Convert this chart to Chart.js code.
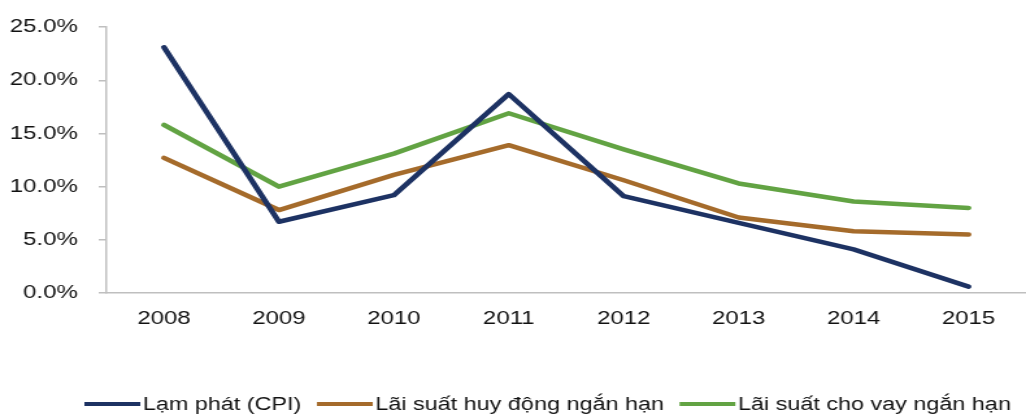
<!DOCTYPE html>
<html>
<head>
<meta charset="utf-8">
<script src="https://cdn.jsdelivr.net/npm/chart.js@4/dist/chart.umd.min.js"></script>
<style>
  html, body { margin: 0; padding: 0; background: #fff; }
</style>
</head>
<body>
<!-- drawn at 790px wide, shown stretched to 1026px like the source picture -->
<canvas id="chart" width="790" height="418" style="width:1026px;height:418px;display:block"></canvas>
<script>
const years = ['2008', '2009', '2010', '2011', '2012', '2013', '2014', '2015']
const cpi = [23.1, 6.7, 9.2, 18.7, 9.1, 6.6, 4.1, 0.6]
const depositRate = [12.7, 7.8, 11.1, 13.9, 10.6, 7.1, 5.8, 5.5]
const lendingRate = [15.8, 10.0, 13.1, 16.9, 13.5, 10.3, 8.6, 8.0]
const yMin = 0
const yMax = 25
const yStep = 5

const font = '"Liberation Sans", Arial, sans-serif'
const textColor = '#111111'
const axisColor = '#bfbfbf'

// legend drawn as short lines + text, tight like the original
const lineLegend = {
  id: 'lineLegend',
  afterDraw(chart) {
    const ctx = chart.ctx
    ctx.save()
    ctx.font = '18px ' + font
    ctx.textBaseline = 'middle'
    let x = chart.chartArea.left - 17
    const y = 404
    chart.data.datasets.forEach(ds => {
      ctx.strokeStyle = ds.borderColor
      ctx.lineWidth = 4
      ctx.beginPath()
      ctx.moveTo(x, y)
      ctx.lineTo(x + 43, y)
      ctx.stroke()
      x += 45
      ctx.fillStyle = textColor
      ctx.fillText(ds.label, x, y + 1)
      x += ctx.measureText(ds.label).width + 12
    })
    ctx.restore()
  }
}

const lineStyle = {
  borderWidth: 4.5,
  pointRadius: 0,
  tension: 0,
  borderCapStyle: 'round',
  borderJoinStyle: 'round',
  fill: false
}

new Chart(document.getElementById('chart'), {
  type: 'line',
  data: {
    labels: years,
    datasets: [
      {label: 'Lạm phát (CPI)', data: cpi, borderColor: '#1d3263', backgroundColor: '#1d3263', ...lineStyle},
      {label: 'Lãi suất huy động ngắn hạn', data: depositRate, borderColor: '#a56b2b', backgroundColor: '#a56b2b', ...lineStyle},
      {label: 'Lãi suất cho vay ngắn hạn', data: lendingRate, borderColor: '#62a343', backgroundColor: '#62a343', ...lineStyle}
    ]
  },
  options: {
    responsive: false,
    devicePixelRatio: 1,
    animation: false,
    layout: {padding: {top: 23, right: 0, bottom: 0, left: 0}},
    plugins: {
      legend: {display: false},
      tooltip: {enabled: false}
    },
    scales: {
      x: {
        offset: true,
        afterFit(s) { s.height = 125 },
        grid: {display: false, drawTicks: false},
        border: {display: true, color: axisColor, width: 1.5},
        ticks: {color: textColor, font: {family: font, size: 18.5}, padding: 15, maxRotation: 0}
      },
      y: {
        min: yMin,
        max: yMax,
        afterFit(s) { s.width = 82 },
        grid: {drawOnChartArea: false, drawTicks: true, tickLength: 6, color: axisColor, lineWidth: 1.5},
        border: {display: true, color: axisColor, width: 1.5},
        ticks: {
          stepSize: yStep,
          color: textColor,
          font: {family: font, size: 18.5},
          padding: 16,
          callback: v => v.toFixed(1) + '%'
        }
      }
    }
  },
  plugins: [lineLegend]
})
</script>
</body>
</html>
